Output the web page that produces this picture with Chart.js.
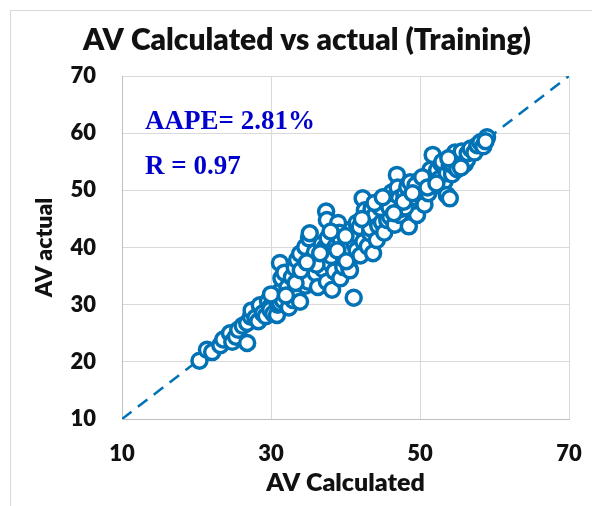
<!DOCTYPE html>
<html>
<head>
<meta charset="utf-8">
<script src="https://cdn.jsdelivr.net/npm/chart.js@4.4.0/dist/chart.umd.min.js"></script>
<style>
  body { margin: 0; background: #fff; }
  #wrap { width: 592px; height: 506px; }
</style>
</head>
<body>
<div id="wrap"><canvas id="chart" width="592" height="506"></canvas></div>
<script>
// Data
const avCalculated = [
  20.4, 21.4, 22.1, 23.2, 23.6, 24.5, 24.8, 25.3, 25.6, 26.2, 26.8, 26.8, 27.3, 27.4, 27.9, 28.3,
  28.5, 28.9, 29.3, 29.6, 29.9, 29.9, 30.3, 30.5, 30.8, 30.9, 31.2, 31.2, 31.4, 31.6, 31.6, 31.2,
  31.8, 32.2, 32.4, 32.8, 33.0, 33.2, 33.5, 33.6, 33.9, 33.9, 34.2, 34.6, 34.6, 35.0, 35.1, 35.2,
  35.5, 35.6, 35.9, 36.0, 36.3, 36.5, 36.8, 37.0, 37.2, 37.4, 37.5, 37.5, 37.6, 37.9, 38.1, 38.2,
  38.5, 38.7, 39.0, 39.2, 39.3, 39.3, 39.5, 39.7, 39.8, 40.2, 40.5, 40.6, 40.5, 40.9, 41.1, 41.2,
  41.5, 41.5, 41.7, 41.9, 42.0, 42.3, 42.4, 42.6, 42.8, 43.0, 43.3, 43.3, 43.5, 43.7, 43.7, 44.0,
  44.2, 44.4, 44.6, 44.9, 45.2, 45.3, 45.6, 45.8, 46.0, 46.2, 46.4, 46.6, 46.9, 46.9, 47.0, 47.2,
  47.3, 47.6, 47.9, 48.3, 48.5, 48.7, 48.9, 49.2, 49.6, 49.7, 49.9, 50.0, 50.4, 50.6, 50.9, 51.1,
  51.4, 51.7, 51.7, 52.0, 52.3, 52.6, 52.9, 53.0, 53.3, 53.6, 53.6, 54.0, 54.0, 54.3, 54.4, 54.7,
  55.0, 55.4, 55.6, 56.0, 56.3, 56.4, 56.8, 57.3, 57.7, 58.1, 58.5, 59.0, 58.8,
  36.1, 38.9, 40.1, 44.7, 45.9, 48.0, 49.4, 50.3,
  30.0, 32.0, 33.3, 34.0, 34.8, 36.6, 38.0, 40.0, 42.2, 43.9, 45.0, 46.5, 47.8, 49.0, 51.0, 52.2,
  53.8, 55.5
];
const avActual = [
  20.2, 22.1, 21.7, 22.9, 23.9, 25.0, 23.5, 24.4, 25.6, 26.3, 23.3, 26.8, 27.9, 29.0, 27.7, 27.1,
  29.9, 28.5, 28.0, 30.6, 29.6, 29.1, 28.4, 31.4, 28.2, 30.0, 30.3, 32.3, 34.6, 31.3, 30.8, 37.3,
  35.6, 33.0, 29.5, 34.8, 30.8, 36.4, 37.8, 32.6, 30.5, 38.9, 34.5, 40.1, 33.3, 34.0, 41.6, 42.5,
  36.6, 38.2, 39.2, 35.5, 33.1, 37.7, 40.6, 36.2, 39.9, 46.3, 44.8, 34.0, 41.6, 37.3, 38.5, 32.6,
  35.8, 40.2, 44.3, 42.6, 34.6, 41.6, 39.0, 36.6, 38.1, 41.2, 36.4, 36.0, 39.9, 43.3, 31.2, 40.6,
  39.5, 44.3, 42.2, 43.6, 38.6, 48.6, 41.0, 46.5, 44.9, 40.2, 42.5, 43.4, 46.8, 39.0, 45.3, 45.7,
  41.3, 43.8, 47.6, 44.4, 42.6, 46.2, 44.8, 48.3, 45.4, 49.6, 47.1, 44.0, 52.7, 47.9, 50.5, 48.6,
  45.7, 46.8, 49.2, 50.6, 43.7, 51.4, 47.6, 48.8, 45.7, 50.0, 51.7, 49.2, 49.5, 47.5, 51.8, 49.5,
  53.6, 52.3, 56.2, 50.8, 53.5, 52.0, 54.6, 55.0, 51.6, 49.2, 53.0, 48.6, 54.4, 52.8, 54.4, 56.6,
  53.7, 55.3, 56.8, 54.6, 55.3, 56.5, 57.3, 56.6, 57.9, 58.4, 57.7, 59.3, 58.6,
  37.0, 39.5, 37.6, 46.9, 47.0, 47.0, 50.9, 52.3,
  31.8, 31.6, 33.8, 36.0, 37.4, 39.0, 42.8, 42.0, 45.0, 47.8, 48.8, 46.0, 48.0, 49.5, 50.5, 51.2,
  55.6, 54.0
];
const unityLine = [10, 70];
const chartTitle = "AV Calculated vs actual (Training)";
const statLines = ["AAPE= 2.81%", "R = 0.97"];

const blue = "#0072b5";
const points = avCalculated.map((x, i) => ({ x: x, y: avActual[i] }));
const diagonal = unityLine.map((v) => ({ x: v, y: v }));

// Frame, title and stats text
const decorPlugin = {
  id: "decor",
  beforeDraw(chart) {
    const ctx = chart.ctx;
    ctx.save();
    ctx.fillStyle = "#fff";
    ctx.fillRect(0, 0, chart.width, chart.height);
    ctx.strokeStyle = "#d9d9d9";
    ctx.lineWidth = 1;
    ctx.strokeRect(10.5, 10.5, 700, 700);
    ctx.restore();
  },
  afterDraw(chart) {
    const ctx = chart.ctx;
    ctx.save();
    ctx.fillStyle = "#111";
    ctx.font = "800 30px Lato";
    ctx.textAlign = "center";
    ctx.textBaseline = "alphabetic";
    ctx.fillText(chartTitle, 307, 50);
    ctx.fillStyle = "#0000cc";
    ctx.font = "bold 27px 'Liberation Serif'";
    ctx.textAlign = "left";
    ctx.fillText(statLines[0], 145, 129);
    ctx.fillText(statLines[1], 145, 174);
    ctx.restore();
  },
};

const tickFont = { family: "Lato", size: 22, weight: "800" };

new Chart(document.getElementById("chart"), {
  data: {
    datasets: [
      {
        type: "scatter",
        data: points,
        order: 0,
        backgroundColor: "#fff",
        borderColor: blue,
        borderWidth: 3.5,
        pointRadius: 7.5,
        pointHoverRadius: 7.5,
      },
      {
        type: "line",
        data: diagonal,
        order: 1,
        borderColor: blue,
        borderWidth: 2.5,
        borderDash: [12, 8],
        pointRadius: 0,
        fill: false,
      },
    ],
  },
  options: {
    responsive: false,
    devicePixelRatio: 1,
    animation: false,
    layout: { padding: { top: 76, left: 10, right: 23, bottom: 0 } },
    plugins: {
      legend: { display: false },
      tooltip: { enabled: false },
    },
    scales: {
      x: {
        type: "linear",
        min: 10,
        max: 70,
        afterFit: (s) => { s.height = 87; s.paddingLeft = 0; s.paddingRight = 0; },
        ticks: { stepSize: 20, color: "#111", font: tickFont, padding: 22 },
        grid: { color: "#d9d9d9", drawTicks: false },
        border: { color: "#bfbfbf" },
        title: { display: true, text: "AV Calculated", color: "#111", font: { family: "Lato", size: 25, weight: "800" }, padding: { bottom: 8 } },
      },
      y: {
        type: "linear",
        min: 10,
        max: 70,
        afterFit: (s) => { s.width = 112; s.paddingTop = 0; s.paddingBottom = 0; },
        ticks: { stepSize: 10, color: "#111", font: tickFont, padding: 26 },
        grid: { color: "#d9d9d9", drawTicks: false },
        border: { color: "#bfbfbf" },
        title: { display: true, text: "AV actual", color: "#111", font: { family: "Lato", size: 23, weight: "800" }, padding: { top: 21 } },
      },
    },
  },
  plugins: [decorPlugin],
});
</script>
</body>
</html>
